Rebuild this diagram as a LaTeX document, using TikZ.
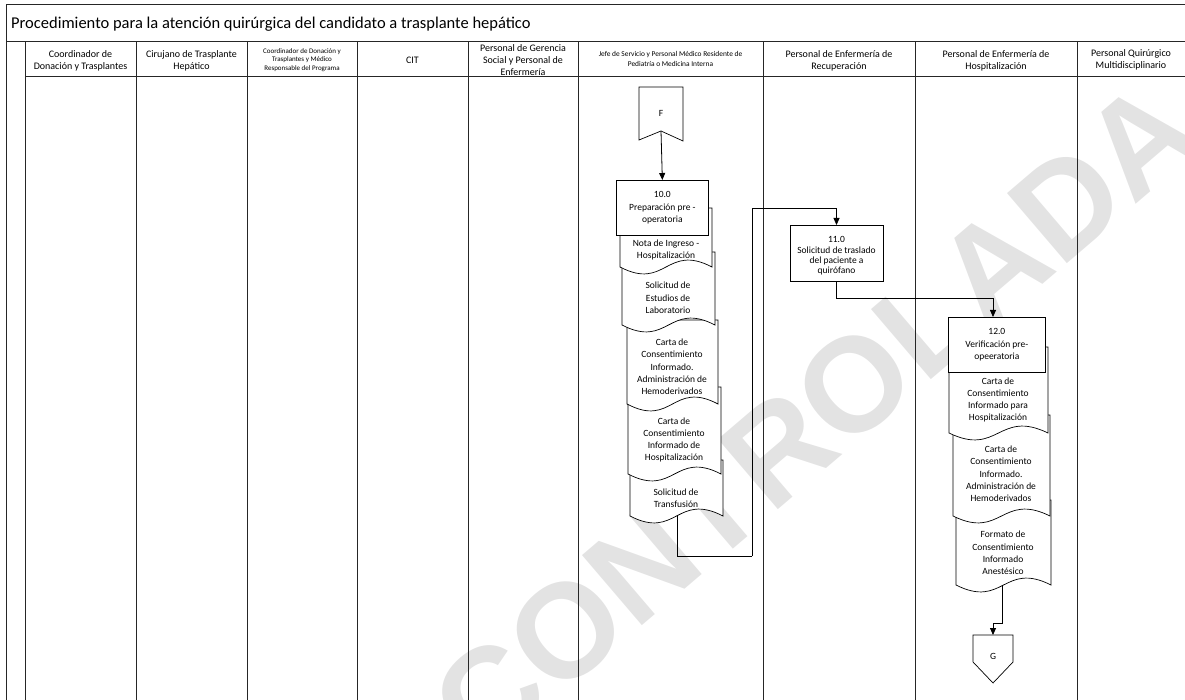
\documentclass[tikz,border=0pt]{standalone}
\usepackage{fontspec}
\setmainfont{Carlito}
\newfontfamily\stampfont{Liberation Sans}
\usetikzlibrary{arrows.meta}

% document symbol with a wavy bottom edge: #1,#2 left/right x, #3 top y, #4 bottom y
\newcommand{\docsym}[4]{%
  \draw[docbox] (#1,#3) -- (#2,#3) -- (#2,#4)
    .. controls ({(#1+#2)/2},#4-24) and ({(#1+#2)/2},#4+24) .. (#1,#4) -- cycle;}

\begin{document}
\begin{tikzpicture}[x=1pt,y=-1pt,
  lane/.style={line width=1pt, draw=black!85},
  hdr/.style={font=\fontsize{10}{12}\selectfont, align=center, inner sep=0pt},
  hdrsmall/.style={font=\fontsize{7}{8.6}\selectfont, align=center, inner sep=0pt},
  proc/.style={draw, fill=white, line width=0.7pt, anchor=north west, inner sep=0pt},
  txt/.style={align=center, font=\fontsize{9.5}{12.3}\selectfont, inner sep=0pt},
  docbox/.style={draw, fill=white, line width=0.7pt},
  flow/.style={line width=0.8pt, -{Triangle[length=7pt,width=6pt]}},
  offpage/.style={draw, fill=white, line width=0.7pt},
]
\useasboundingbox (0,0) rectangle (1185,700);

% stamp across the sheet
\node[text=black!11, rotate=40.5, font=\stampfont\bfseries\fontsize{134}{134}\selectfont, inner sep=0pt]
  (stamp) at (815,418) {CONTROLADA};

% frame and swimlanes
\draw[lane] (6,5) -- (1185,5);
\draw[lane] (6,5) -- (6,700);
\draw[lane] (6,42) -- (1185,42);
\draw[lane] (25,77) -- (1185,77);
\foreach \lx in {25,136,247,357,468,578,763,915,1077}
  \draw[lane] (\lx,42) -- (\lx,700);

\node[anchor=west, font=\fontsize{16.5}{18}\selectfont, inner sep=0pt] (title) at (11,24)
  {Procedimiento para la atención quirúrgica del candidato a trasplante hepático};

% lane headings
\node[hdr] (h1) at (80.5,61) {Coordinador de\\Donación y Trasplantes};
\node[hdr] (h2) at (191.5,61) {Cirujano de Trasplante\\Hepático};
\node[hdrsmall] (h3) at (302,60) {Coordinador de Donación y\\Trasplantes y Médico\\Responsable del Programa};
\node[hdr] (h4) at (412.5,60) {CIT};
\node[hdr] (h5) at (523,60) {Personal de Gerencia\\Social y Personal de\\Enfermería};
\node[hdrsmall, font=\fontsize{7.4}{9.2}\selectfont] (h6) at (670.5,59) {Jefe de Servicio y Personal Médico Residente de\\Pediatría o Medicina Interna};
\node[hdr] (h7) at (839,61) {Personal de Enfermería de\\Recuperación};
\node[hdr] (h8) at (996,61) {Personal de Enfermería de\\Hospitalización};
\node[hdr] (h9) at (1131,60) {Personal Quirúrgico\\Multidisciplinario};

% reference points for the connectors
\coordinate (fnotch) at (661,131);
\coordinate (d5bot) at (677,516);
\coordinate (loopturn) at (752,556);
\coordinate (loopup) at (752,208);
\coordinate (dCbot) at (1002,586);
\coordinate (gjog) at (993,623);
\coordinate (gtop) at (993,635);

% connectors
\draw[line width=0.8pt] (d5bot) |- (loopturn);
\draw[flow] (loopturn) -- (loopup) -- (836.5,208) -- (836.5,225);

% document stack of activity 10.0
\docsym{630}{723}{460}{516}
\docsym{628}{721}{387}{474}
\docsym{627}{718}{320}{404}
\docsym{622}{715}{252}{325}
\docsym{620}{712}{208}{267}
\node[txt] (n10a) at (666,250) {Nota de Ingreso -\\Hospitalización};
\node[txt] (n10b) at (668,298) {Solicitud de\\Estudios de\\Laboratorio};
\node[txt] (n10c) at (672,367) {Carta de\\Consentimiento\\Informado.\\Administración de\\Hemoderivados};
\node[txt] (n10d) at (674,440) {Carta de\\Consentimiento\\Informado de\\Hospitalización};
\node[txt] (n10e) at (676,498) {Solicitud de\\Transfusión};

\node[proc, minimum width=92pt, minimum height=55pt] (p10) at (616,180) {};
\node[txt] (p10t) at (p10.center) {10.0\\Preparación pre -\\operatoria};

% off-page connector F
\draw[offpage] (639,87) -- (683,87) -- (683,141) -- (fnotch) -- (639,140) -- cycle;
\node[txt] (fconn) at (661,113) {F};
\draw[flow] (fnotch) -- (p10.north);

% activity 11.0
\node[proc, minimum width=93pt, minimum height=56pt] (p11) at (790,225) {};
\node[txt, font=\fontsize{9.5}{10.3}\selectfont] (p11t) at (836.5,256) {11.0\\Solicitud de traslado\\del paciente a\\quirófano};
\draw[flow] (p11.south) |- (993,298) -- (993,317);

% document stack of activity 12.0
\docsym{956}{1051}{500}{585}
\docsym{953}{1050}{415}{516}
\docsym{949}{1048}{347}{433}
\node[txt] (n12a) at (998,400) {Carta de\\Consentimiento\\Informado para\\Hospitalización};
\node[txt] (n12b) at (1001,474) {Carta de\\Consentimiento\\Informado.\\Administración de\\Hemoderivados};
\node[txt] (n12c) at (1003,553) {Formato de\\Consentimiento\\Informado\\Anestésico};

\node[proc, minimum width=97pt, minimum height=55pt] (p12) at (948,317) {};
\node[txt] (p12t) at (p12.center) {12.0\\Verificación pre-\\opeeratoria};

% off-page connector G
\draw[flow] (dCbot) |- (gjog) -- (gtop);
\draw[offpage] (973,635) -- (1013,635) -- (1013,662) -- (993,683) -- (973,662) -- cycle;
\node[txt] (gconn) at (993,656) {G};
\end{tikzpicture}
\end{document}
